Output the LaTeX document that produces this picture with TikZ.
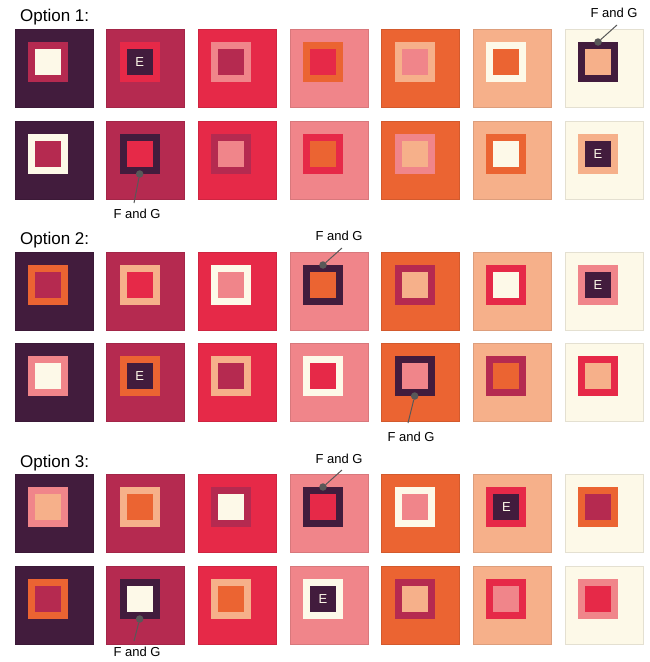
\documentclass[tikz,border=0pt]{standalone}
\usepackage{fontspec}
\setmainfont{Liberation Sans}
\usetikzlibrary{positioning}
\definecolor{plum}{RGB}{66,28,61}
\definecolor{berry}{RGB}{181,42,80}
\definecolor{scarlet}{RGB}{230,41,72}
\definecolor{rose}{RGB}{240,133,138}
\definecolor{tangerine}{RGB}{235,100,50}
\definecolor{peach}{RGB}{246,176,138}
\definecolor{cream}{RGB}{253,249,232}
\definecolor{leadgray}{RGB}{88,88,88}
\tikzset{
  tile/.style={minimum size=78pt,inner sep=0pt,outer sep=0pt},
  ring/.style={minimum size=40pt,inner sep=0pt,outer sep=0pt},
  core/.style={minimum size=26pt,inner sep=0pt,outer sep=0pt},
  elabel/.style={text=cream,font=\fontsize{13}{13}\selectfont},
  title/.style={anchor=base west,inner sep=0pt,font=\fontsize{17}{20}\selectfont},
  callout/.style={inner sep=1pt,font=\fontsize{13}{13}\selectfont},
  dot/.style={circle,fill=leadgray,minimum size=7.5pt,inner sep=0pt,outer sep=0pt},
  lead/.style={draw=leadgray,line width=1pt}
}
% ring and core colours of one row, column by column
\newcommand{\rings}[2]{%
  \foreach \rc/\cc [count=\i] in {#2} {
    \node[ring,fill=\rc] (r#1\i) at ([shift={(-6,-6)}]t#1\i) {};
    \node[core,fill=\cc] (c#1\i) at (r#1\i) {};
  }}

\begin{document}
\begin{tikzpicture}[x=1pt,y=-1pt]
  \useasboundingbox (0,0) rectangle (650,662);
  % titles
  \node[title] (opt1) at (20,21) {Option 1:};
  \node[title] (opt2) at (20,244) {Option 2:};
  \node[title] (opt3) at (20,467) {Option 3:};
  % outer tiles
  \foreach \ty [count=\r] in {29,121,252,343,474,566}
    \foreach \col [count=\i] in {plum,berry,scarlet,rose,tangerine,peach,cream}
      \node[tile,fill=\col,draw=\col!90!black,line width=0.6pt] (t\r\i)
        at ({54+91.67*(\i-1)},\ty+39) {};
  % inner squares
  \rings{1}{berry/cream,scarlet/plum,rose/berry,tangerine/scarlet,peach/rose,cream/tangerine,plum/peach}
  \rings{2}{cream/berry,plum/scarlet,berry/rose,scarlet/tangerine,rose/peach,tangerine/cream,peach/plum}
  \rings{3}{tangerine/berry,peach/scarlet,cream/rose,plum/tangerine,berry/peach,scarlet/cream,rose/plum}
  \rings{4}{rose/cream,tangerine/plum,peach/berry,cream/scarlet,plum/rose,berry/tangerine,scarlet/peach}
  \rings{5}{rose/peach,peach/tangerine,berry/cream,plum/scarlet,cream/rose,scarlet/plum,tangerine/berry}
  \rings{6}{tangerine/berry,plum/cream,peach/tangerine,cream/plum,berry/peach,scarlet/rose,rose/scarlet}
  % E marks
  \foreach \c in {12,27,37,42,56,64}
    \node[elabel] (e\c) at (c\c) {E};
  % F and G callouts
  \foreach \n/\anc/\kx/\ky/\lx/\ly in {1/r17.north/617/25/614/13,
      2/r22.south/134/203/137/214, 3/r34.north/342/248/339/236,
      4/r45.south/408/423/411/437, 5/r54.north/342/470/339/459,
      6/r62.south/134/641/137/652} {
    \node[dot] (d\n) at (\anc) {};
    \coordinate (k\n) at (\kx,\ky);
    \node[callout] (l\n) at (\lx,\ly) {F and G};
    \draw[lead] (d\n) -- (k\n);
  }
\end{tikzpicture}
\end{document}
